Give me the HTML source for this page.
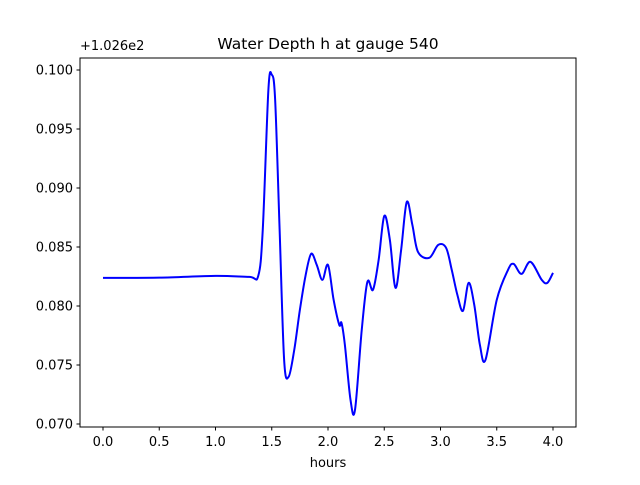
<!DOCTYPE html>
<html><head><meta charset="utf-8"><style>
body{margin:0;background:#fff;font-family:"Liberation Sans","DejaVu Sans",sans-serif}
svg text{font-family:"DejaVu Sans","Liberation Sans",sans-serif;font-size:13px;fill:#000}
</style></head><body>
<svg id="chart" width="640" height="480">
<rect width="640" height="480" fill="#fff"/>
<text x="328" y="49" text-anchor="middle" style="font-size:15.5px">Water Depth h at gauge 540</text>
<text x="80" y="50">+1.026e2</text>
<text x="328" y="467" text-anchor="middle">hours</text>
<g id="ticks"></g>
<path id="line" fill="none" stroke="#0000ff" stroke-width="2"/>
<rect x="80" y="58" width="496" height="369" fill="none" stroke="#000" stroke-width="1"/>
</svg>
<script>
const times=[0,0.5,1.0,1.3,1.38,1.42,1.47,1.5,1.53,1.57,1.61,1.65,1.7,1.75,1.8,1.85,1.9,1.95,2.0,2.05,2.1,2.12,2.15,2.2,2.24,2.3,2.35,2.4,2.45,2.5,2.55,2.6,2.65,2.7,2.75,2.8,2.9,2.98,3.05,3.1,3.15,3.2,3.25,3.3,3.35,3.4,3.5,3.6,3.65,3.72,3.8,3.9,3.95,4.0];
const depths=[0.08238,0.0824,0.08255,0.08247,0.08255,0.08645,0.0983,0.0996,0.0975,0.08645,0.07544,0.0740,0.07628,0.07967,0.08255,0.08442,0.08348,0.08221,0.08348,0.08052,0.0784,0.07857,0.07671,0.07205,0.0712,0.07798,0.08204,0.08137,0.0839,0.08763,0.0856,0.08154,0.08475,0.08882,0.08687,0.08458,0.08408,0.08518,0.08492,0.08306,0.08094,0.07959,0.08196,0.0801,0.07671,0.07544,0.08052,0.08306,0.08357,0.08272,0.08374,0.08221,0.08196,0.08281];
const xTicks=[0,0.5,1.0,1.5,2.0,2.5,3.0,3.5,4.0];
const xTickLabels=["0.0","0.5","1.0","1.5","2.0","2.5","3.0","3.5","4.0"];
const yTicks=[0.070,0.075,0.080,0.085,0.090,0.095,0.100];
const yTickLabels=["0.070","0.075","0.080","0.085","0.090","0.095","0.100"];
const X=t=>103+(t)*112.5;
const Y=v=>70+(0.100-v)*11800;
const NS="http://www.w3.org/2000/svg";
const g=document.getElementById('ticks');
function mk(tag,a){const e=document.createElementNS(NS,tag);for(const k in a)e.setAttribute(k,a[k]);return e;}
xTicks.forEach((t,i)=>{
 const l=mk('line',{x1:X(t),x2:X(t),y1:427,y2:430.5,stroke:'#000'});
 
 
 g.appendChild(l);
 const tx=mk('text',{x:X(t),y:446,'text-anchor':'middle'});tx.textContent=xTickLabels[i];
 
 
 g.appendChild(tx);
});
yTicks.forEach((v,i)=>{
 const l=mk('line',{x1:76.5,x2:80,y1:Y(v),y2:Y(v),stroke:'#000'});
 
 
 g.appendChild(l);
 const tx=mk('text',{x:73,y:Y(v)+4.5,'text-anchor':'end'});tx.textContent=yTickLabels[i];
 
 
 g.appendChild(tx);
});
const P=times.map((t,i)=>[X(t),Y(depths[i])]);
let d='M'+P[0][0]+','+P[0][1];
for(let i=0;i<P.length-1;i++){
 const p0=P[i-1]||P[i],p1=P[i],p2=P[i+1],p3=P[i+2]||P[i+1];
 const c1=[p1[0]+(p2[0]-p0[0])/6,p1[1]+(p2[1]-p0[1])/6];
 const c2=[p2[0]-(p3[0]-p1[0])/6,p2[1]-(p3[1]-p1[1])/6];
 d+=` C${c1[0]},${c1[1]} ${c2[0]},${c2[1]} ${p2[0]},${p2[1]}`;
}
document.getElementById('line').setAttribute('d',d);
</script>
</body></html>
